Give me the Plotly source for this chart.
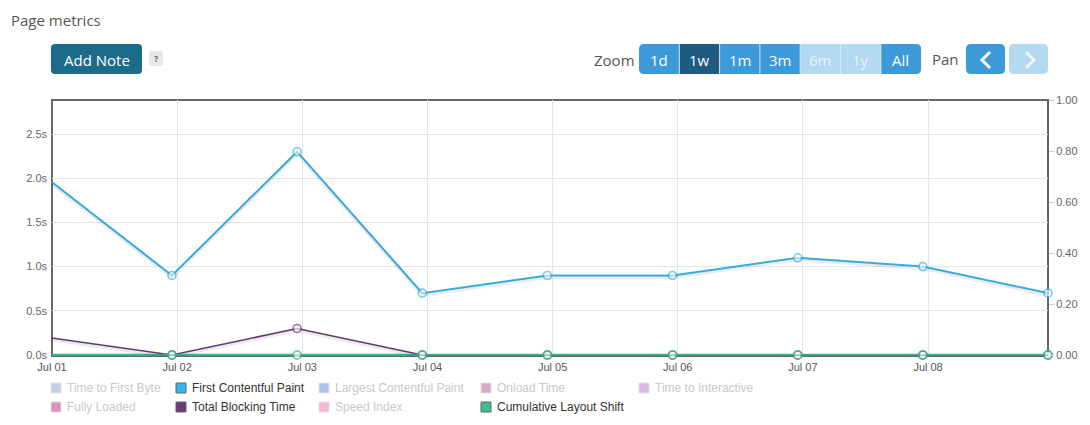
import plotly.graph_objects as go

# ---------------- data ----------------
dates = ["2024-06-30 23:00", "2024-07-01 23:00", "2024-07-02 23:00", "2024-07-03 23:00",
         "2024-07-04 23:00", "2024-07-05 23:00", "2024-07-06 23:00", "2024-07-07 23:00",
         "2024-07-08 23:00"]
fcp_values = [2.0, 0.9, 2.3, 0.7, 0.9, 0.9, 1.1, 1.0, 0.7]          # seconds
tbt_values = [0.2, 0.0, 0.3, 0.0, 0.0, 0.0, 0.0, 0.0, 0.0]          # seconds
cls_values = [0.0, 0.0, 0.0, 0.0, 0.0, 0.0, 0.0, 0.0, 0.0]          # score

tick_dates = ["2024-07-01", "2024-07-02", "2024-07-03", "2024-07-04",
              "2024-07-05", "2024-07-06", "2024-07-07", "2024-07-08"]
tick_labels = ["Jul 01", "Jul 02", "Jul 03", "Jul 04", "Jul 05", "Jul 06", "Jul 07", "Jul 08"]
left_ticks = [0, 0.5, 1.0, 1.5, 2.0, 2.5]
left_tick_text = ["0.0s", "0.5s", "1.0s", "1.5s", "2.0s", "2.5s"]
right_ticks = [0, 0.2, 0.4, 0.6, 0.8, 1.0]
right_tick_text = ["0.00", "0.20", "0.40", "0.60", "0.80", "1.00"]

legend_names = ["Time to First Byte", "First Contentful Paint", "Largest Contentful Paint",
                "Onload Time", "Time to Interactive", "Fully Loaded", "Total Blocking Time",
                "Speed Index", "Cumulative Layout Shift"]
legend_colors = ["#c9cee8", "#2db6ef", "#aac3f1", "#d8aac6", "#dcb6ea", "#dc92b6",
                 "#6a3d7a", "#f6b6d4", "#3dbd93"]
legend_active = [False, True, False, False, False, False, True, False, True]

zoom_labels = ["1d", "1w", "1m", "3m", "6m", "1y", "All"]
zoom_state = ["on", "sel", "on", "on", "off", "off", "on"]

x_start, x_end = "2024-07-01 00:00", "2024-07-08 23:00"
y_left_max = 2.885
y_right_max = 1.0

# ---------------- geometry helpers ----------------
W, H = 1090, 425
L, R, T, B = 52, 1048, 100, 356
ZERO_PX = 355            # pixel row of the value 0 on both y axes

u_left = y_left_max / (ZERO_PX - T)
u_right = y_right_max / (ZERO_PX - T)
y_left_min = -(B - ZERO_PX) * u_left
y_right_min = -(B - ZERO_PX) * u_right


def fx(x):
    return (x - L) / (R - L)


def fy(y):
    return (B - y) / (B - T)


def rrect(x0, y0, x1, y1, r):
    return (f"M {fx(x0+r)},{fy(y0)} L {fx(x1-r)},{fy(y0)} Q {fx(x1)},{fy(y0)} {fx(x1)},{fy(y0+r)} "
            f"L {fx(x1)},{fy(y1-r)} Q {fx(x1)},{fy(y1)} {fx(x1-r)},{fy(y1)} "
            f"L {fx(x0+r)},{fy(y1)} Q {fx(x0)},{fy(y1)} {fx(x0)},{fy(y1-r)} "
            f"L {fx(x0)},{fy(y0+r)} Q {fx(x0)},{fy(y0)} {fx(x0+r)},{fy(y0)} Z")


shapes = []
annotations = []


def text(x, y, s, size, color, family="Open Sans", xanchor="left", yanchor="middle"):
    annotations.append(dict(x=fx(x), y=fy(y), xref="paper", yref="paper", text=s,
                            showarrow=False, xanchor=xanchor, yanchor=yanchor,
                            font=dict(size=size, color=color, family=family)))


def rect(x0, y0, x1, y1, fill, line=None, lw=0, layer="above"):
    shapes.append(dict(type="rect", xref="paper", yref="paper", x0=fx(x0), x1=fx(x1),
                       y0=fy(y0), y1=fy(y1), fillcolor=fill,
                       line=dict(color=line or fill, width=lw), layer=layer))


def path(p, fill=None, line=None, lw=0):
    d = dict(type="path", xref="paper", yref="paper", path=p, layer="above",
             line=dict(color=line or "rgba(0,0,0,0)", width=lw))
    if fill:
        d["fillcolor"] = fill
    shapes.append(d)


# ---------------- traces ----------------
fig = go.Figure()

shadow_px = 1.5
for vals, ax in [(fcp_values, "y3"), (tbt_values, "y3"), (cls_values, "y4")]:
    fig.add_trace(go.Scatter(x=dates, y=vals, yaxis=ax, mode="lines",
                             line=dict(color="rgba(0,0,0,0.08)", width=4),
                             hoverinfo="skip", showlegend=False))

marker_sizes = [0 if d < x_start else 8 for d in dates]

fig.add_trace(go.Scatter(x=dates, y=fcp_values, yaxis="y", mode="lines+markers",
                         name="First Contentful Paint", cliponaxis=False,
                         line=dict(color="#3bb8ef", width=2),
                         marker=dict(size=marker_sizes, color="white",
                                     line=dict(color="#3bb8ef", width=1.6))))
fig.add_trace(go.Scatter(x=dates, y=tbt_values, yaxis="y", mode="lines+markers",
                         name="Total Blocking Time", cliponaxis=False,
                         line=dict(color="#6a3d7a", width=1.5),
                         marker=dict(size=marker_sizes, color="white",
                                     line=dict(color="#6a3d7a", width=1.6))))
fig.add_trace(go.Scatter(x=dates, y=cls_values, yaxis="y2", mode="lines+markers",
                         name="Cumulative Layout Shift", cliponaxis=False,
                         line=dict(color="#3dbd93", width=2.4),
                         marker=dict(size=marker_sizes, color="white",
                                     line=dict(color="#3dbd93", width=1.8))))

# ---------------- frame ----------------
shapes.append(dict(type="rect", xref="paper", yref="paper", x0=0, x1=1, y0=0, y1=1,
                   line=dict(color="#666666", width=2), layer="between"))

# ---------------- header UI ----------------
text(9, 20, "Page metrics", 15, "#555555")
path(rrect(51, 44, 142, 74, 4), fill="#1d6b8b")
text(96.5, 59.5, "Add Note", 15, "#ffffff", xanchor="center")
path(rrect(149, 51, 163, 66, 2), fill="#e8e8e8")
text(156, 58.5, "<b>?</b>", 9, "#666666", xanchor="center")

text(637, 59.5, "Zoom", 15, "#555555", xanchor="right")
zx0, zw = 639, 40.3
path(rrect(zx0, 44, zx0 + zw * len(zoom_labels), 74, 5), fill="#3c9ad9")
fills = {"on": "#3c9ad9", "sel": "#1f5a81", "off": "#b3d8f1"}
tcol = {"on": "#ffffff", "sel": "#ffffff", "off": "#eaf4fb"}
for i, (lab, st) in enumerate(zip(zoom_labels, zoom_state)):
    a, b = zx0 + zw * i, zx0 + zw * (i + 1)
    if st != "on":
        rect(a, 44, b, 74, fills[st])
    if i > 0:
        shapes.append(dict(type="line", xref="paper", yref="paper", x0=fx(a), x1=fx(a),
                           y0=fy(44), y1=fy(74), line=dict(color="#d6e9f7", width=1),
                           layer="above"))
    text((a + b) / 2, 59.5, lab, 15, tcol[st], xanchor="center")

text(961, 59, "Pan", 15, "#555555", xanchor="right")
path(rrect(966, 44, 1005, 74, 5), fill="#3c9ad9")
path(rrect(1009, 44, 1048, 74, 5), fill="#b3d8f1")
path(f"M {fx(990)},{fy(52)} L {fx(982)},{fy(60)} L {fx(990)},{fy(68)}", line="#ffffff", lw=3)
path(f"M {fx(1026)},{fy(52)} L {fx(1034)},{fy(60)} L {fx(1026)},{fy(68)}", line="#eef6fc", lw=3)

# ---------------- legend ----------------
col_x = [51, 176, 319, 481, 639]
row_y = [388, 407]
for i, (nm, col, act) in enumerate(zip(legend_names, legend_colors, legend_active)):
    c, r = i % 5, i // 5
    x, y = col_x[c], row_y[r]
    rect(x, y - 5, x + 10, y + 5, col, line="#666666" if act else "#e0e0e0", lw=1)
    text(x + 14, y, nm, 12, "#333333" if act else "#c8c8c8", family="Liberation Sans, Arial")

# ---------------- layout ----------------
axis_font = dict(family="Liberation Sans, Arial", size=11, color="#666666")
fig.update_layout(
    width=W, height=H,
    margin=dict(l=L, r=W - R, t=T, b=H - B),
    paper_bgcolor="white", plot_bgcolor="white",
    showlegend=False,
    xaxis=dict(type="date", range=[x_start, x_end], tickvals=tick_dates, ticktext=tick_labels,
               showgrid=True, gridcolor="#e6e6e6", gridwidth=1, zeroline=False,
               tickfont=dict(family="Liberation Sans, Arial", size=11, color="#555555"),
               ticks="", showline=False, ticklabelstandoff=3),
    yaxis=dict(range=[y_left_min, y_left_max], tickvals=left_ticks, ticktext=left_tick_text,
               showgrid=True, gridcolor="#e6e6e6", zeroline=False, tickfont=axis_font,
               ticks="", showline=False, ticklabelstandoff=4),
    yaxis2=dict(range=[y_right_min, y_right_max], overlaying="y", side="right",
                tickvals=right_ticks, ticktext=right_tick_text, showgrid=False,
                zeroline=False, tickfont=axis_font,
                ticks="outside", ticklen=5, tickcolor="#cccccc", showline=False),
    yaxis3=dict(range=[y_left_min + shadow_px * u_left, y_left_max + shadow_px * u_left],
                overlaying="y", visible=False),
    yaxis4=dict(range=[y_right_min + shadow_px * u_right, y_right_max + shadow_px * u_right],
                overlaying="y", visible=False),
    shapes=shapes,
    annotations=annotations,
)

fig.write_html("out.html")
